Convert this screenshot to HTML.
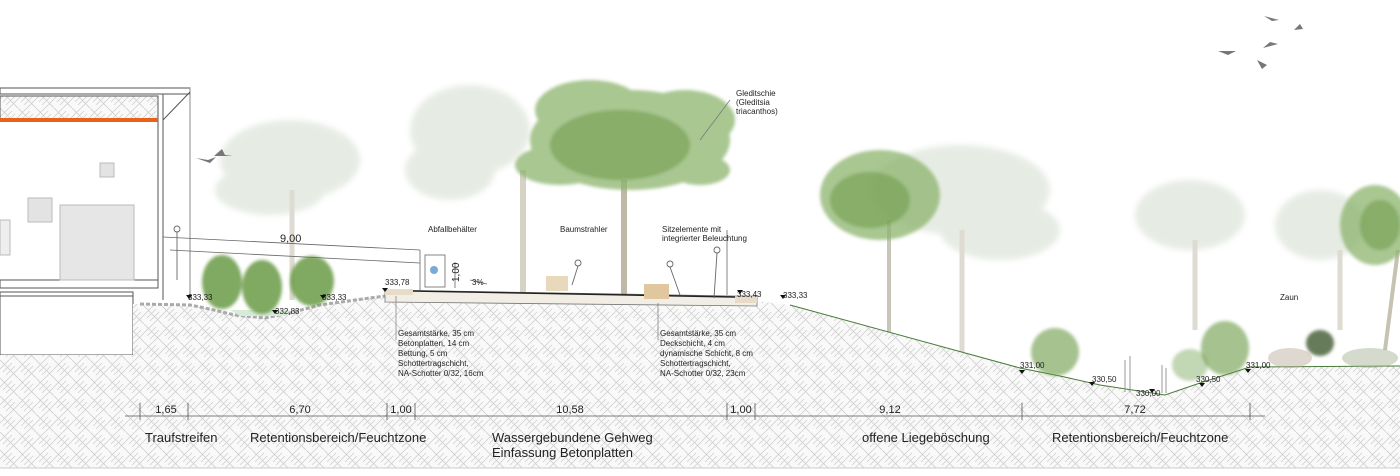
<!DOCTYPE html>
<html><head><meta charset="utf-8"><style>
html,body{margin:0;padding:0;background:#fff;}
svg{display:block;font-family:"Liberation Sans",sans-serif;}
</style></head><body>
<svg width="1400" height="476" viewBox="0 0 1400 476" xmlns="http://www.w3.org/2000/svg">
<defs>
<pattern id="hb" width="18" height="18" patternUnits="userSpaceOnUse">
<rect width="18" height="18" fill="#f9f9f9"/>
<path d="M0 9 L9 0 M9 18 L18 9 M0 0 L9 9 M9 9 L18 18 M3 12 L12 3 M6 15 L15 6" stroke="#cfcfcf" stroke-width="0.8" fill="none"/>
</pattern>
<filter id="bl"><feGaussianBlur stdDeviation="3"/></filter>
<filter id="bl2"><feGaussianBlur stdDeviation="1.5"/></filter>
</defs>

<!-- background trees (faded) -->
<g opacity="0.28" filter="url(#bl)" fill="#a9bca0">
<ellipse cx="290" cy="160" rx="70" ry="40"/><ellipse cx="270" cy="190" rx="55" ry="25"/>
<ellipse cx="470" cy="130" rx="60" ry="45"/><ellipse cx="450" cy="170" rx="45" ry="30"/>
<ellipse cx="960" cy="190" rx="90" ry="45"/><ellipse cx="1000" cy="230" rx="60" ry="30"/>
<ellipse cx="1190" cy="215" rx="55" ry="35"/>
<ellipse cx="1320" cy="225" rx="45" ry="35"/>
</g>
<g stroke="#dedbd2" stroke-width="5">
<line x1="292" y1="190" x2="292" y2="300"/>
<line x1="962" y1="230" x2="962" y2="355"/>
<line x1="1195" y1="240" x2="1195" y2="330"/>
<line x1="1340" y1="250" x2="1340" y2="330"/>
</g>
<line x1="523" y1="170" x2="523" y2="295" stroke="#d6d2c4" stroke-width="6"/>
<line x1="889" y1="220" x2="889" y2="335" stroke="#c9c6b8" stroke-width="4"/>
<line x1="624" y1="180" x2="624" y2="298" stroke="#bdb9a6" stroke-width="6"/>
<line x1="1398" y1="250" x2="1385" y2="350" stroke="#c7c3b2" stroke-width="4"/>

<!-- main trees -->
<g filter="url(#bl2)">
<g fill="#8db56c" opacity="0.75">
<ellipse cx="630" cy="140" rx="100" ry="50"/>
<ellipse cx="590" cy="110" rx="55" ry="30"/>
<ellipse cx="685" cy="120" rx="50" ry="30"/>
<ellipse cx="560" cy="165" rx="45" ry="20"/>
<ellipse cx="700" cy="170" rx="30" ry="15"/>
<ellipse cx="880" cy="195" rx="60" ry="45"/>
<ellipse cx="1375" cy="225" rx="35" ry="40"/>
</g>
<g fill="#6d9a4b" opacity="0.55">
<ellipse cx="620" cy="145" rx="70" ry="35"/>
<ellipse cx="870" cy="200" rx="40" ry="28"/>
<ellipse cx="1380" cy="225" rx="20" ry="25"/>
</g>
</g>

<!-- building -->
<g stroke="#555" stroke-width="1" fill="none">
<rect x="0" y="88" width="190" height="6" fill="#fff"/>
<rect x="0" y="96" width="158" height="24" fill="url(#hb)"/>
<line x1="163" y1="94" x2="163" y2="300"/>
<line x1="158" y1="120" x2="158" y2="285"/>
<line x1="190" y1="88" x2="190" y2="300" stroke="#888"/>
<line x1="163" y1="120" x2="190" y2="92"/>
<rect x="0" y="280" width="158" height="8" fill="#fff"/>
<rect x="0" y="292" width="133" height="63" fill="#fff"/>
<line x1="0" y1="296" x2="133" y2="296"/>
</g>
<rect x="0" y="118" width="158" height="4" fill="#e8621c"/>
<rect x="100" y="163" width="14" height="14" fill="#e3e3e3" stroke="#bbb"/>
<rect x="28" y="198" width="24" height="24" fill="#e3e3e3" stroke="#bbb"/>
<rect x="60" y="205" width="74" height="75" fill="#e6e6e6" stroke="#bbb"/>
<rect x="0" y="220" width="10" height="35" fill="#eee" stroke="#bbb"/>
<!-- birds -->
<g fill="#777">
<path d="M196 158 l12 2 l8 -3 l-6 6 z"/><path d="M214 156 l8 -7 l3 6 l8 1 z"/>
<path d="M1264 16 l8 5 l7 -1 z"/><path d="M1294 30 l6 -6 l3 5 z"/><path d="M1263 48 l7 -6 l8 2 z"/><path d="M1218 51 l10 4 l8 -4 z"/><path d="M1257 60 l5 9 l5 -4 z"/>
</g>

<!-- ground -->
<path d="M0 355 L133 355 L133 304 L190 305 L205 308 L235 315 L265 318 L290 313 L320 305 L355 300 L385 296 L410 297 L735 301 L757 301 L790 305 L1020 368 L1060 376 L1100 385 L1165 395 L1200 383 L1250 367 L1400 366 L1400 468 L0 468 Z" fill="url(#hb)"/>
<path d="M140 304 L190 305 L205 308 L235 315 L265 318 L290 313 L320 305 L355 300 L385 296" stroke="#aaa" stroke-width="3" fill="none" stroke-dasharray="4 2"/>
<path d="M230 310 L290 310 L285 316 L240 316Z" fill="#d6ecd8"/>
<path d="M790 305 L1020 368 L1060 376 L1100 385 L1165 395 L1200 383 L1250 367 L1400 366" stroke="#4a7a3a" stroke-width="1" fill="none"/>
<line x1="0" y1="468" x2="1400" y2="468" stroke="#ccc"/>
<path d="M385 290 L735 296 L757 296 L757 306 L385 302 Z" fill="#f2eee6" stroke="#777" stroke-width="0.8"/>
<line x1="413" y1="291" x2="735" y2="297" stroke="#222" stroke-width="1.5"/>
<rect x="385" y="289" width="28" height="6" fill="#e8dcc8"/>
<rect x="735" y="297" width="22" height="6" fill="#e8dcc8"/>

<!-- shrubs -->
<g fill="#6a9a45" filter="url(#bl2)">
<ellipse cx="222" cy="282" rx="20" ry="27" opacity="0.85"/><ellipse cx="262" cy="287" rx="20" ry="27" opacity="0.85"/><ellipse cx="312" cy="281" rx="22" ry="25" opacity="0.85"/>
<ellipse cx="1055" cy="352" rx="24" ry="24" opacity="0.6"/><ellipse cx="1225" cy="348" rx="24" ry="27" opacity="0.6"/><ellipse cx="1190" cy="365" rx="18" ry="16" opacity="0.4"/>
<ellipse cx="1320" cy="343" rx="14" ry="13" fill="#3f5a30" opacity="0.8"/>
</g>
<g fill="#b9a998" opacity="0.45"><ellipse cx="1290" cy="358" rx="22" ry="10"/><ellipse cx="1370" cy="358" rx="28" ry="10" fill="#9fb08f"/></g>
<g stroke="#999" stroke-width="1"><line x1="1125" y1="360" x2="1125" y2="392"/><line x1="1130" y1="356" x2="1130" y2="392"/><line x1="1162" y1="365" x2="1162" y2="393"/><line x1="1166" y1="368" x2="1166" y2="393"/></g>

<!-- railing / dims -->
<g stroke="#666" stroke-width="0.8" fill="none">
<line x1="163" y1="237" x2="420" y2="250"/>
<line x1="170" y1="250" x2="420" y2="263"/>
<line x1="420" y1="250" x2="420" y2="290"/>
<rect x="425" y="255" width="20" height="32" fill="#fff"/>
<line x1="455" y1="262" x2="455" y2="288"/>
<line x1="470" y1="280" x2="487" y2="284"/>
<line x1="727" y1="295" x2="727" y2="230"/>
</g>
<circle cx="434" cy="270" r="4" fill="#7aaad6"/>
<rect x="546" y="276" width="22" height="15" fill="#e8d8bc"/>
<rect x="644" y="284" width="25" height="15" fill="#e1c79e"/>
<g stroke="#666" fill="none" stroke-width="0.9">
<circle cx="177" cy="229" r="3"/><line x1="177" y1="232" x2="177" y2="280"/>
<circle cx="578" cy="263" r="3"/><line x1="578" y1="266" x2="572" y2="285"/>
<circle cx="670" cy="264" r="3"/><line x1="670" y1="267" x2="680" y2="295"/>
<circle cx="717" cy="250" r="3"/><line x1="717" y1="253" x2="714" y2="298"/>
</g>

<!-- text labels -->
<g font-size="8" fill="#222">
<text x="280" y="242" font-size="11">9,00</text>
<text x="428" y="232">Abfallbehälter</text>
<text x="560" y="232">Baumstrahler</text>
<text x="662" y="232">Sitzelemente mit</text>
<text x="662" y="241">integrierter Beleuchtung</text>
<text x="736" y="96">Gleditschie</text>
<text x="736" y="105">(Gleditsia</text>
<text x="736" y="114">triacanthos)</text>
<text x="472" y="285">3%</text>
<text x="459" y="282" transform="rotate(-90 459 282)" font-size="10">1,00</text>
<text x="1280" y="300">Zaun</text>
<text x="188" y="300">333,33</text>
<text x="322" y="300">333,33</text>
<text x="385" y="285">333,78</text>
<text x="275" y="314">332,83</text>
<text x="737" y="297">333,43</text>
<text x="783" y="298">333,33</text>
<text x="1020" y="368">331,00</text>
<text x="1092" y="382">330,50</text>
<text x="1136" y="396">330,00</text>
<text x="1196" y="382">330,50</text>
<text x="1246" y="368">331,00</text>
<text x="398" y="336">Gesamtstärke, 35 cm</text>
<text x="398" y="346">Betonplatten, 14 cm</text>
<text x="398" y="356">Bettung, 5 cm</text>
<text x="398" y="366">Schottertragschicht,</text>
<text x="398" y="376">NA-Schotter 0/32, 16cm</text>
<text x="660" y="336">Gesamtstärke, 35 cm</text>
<text x="660" y="346">Deckschicht, 4 cm</text>
<text x="660" y="356">dynamische Schicht, 8 cm</text>
<text x="660" y="366">Schottertragschicht,</text>
<text x="660" y="376">NA-Schotter 0/32, 23cm</text>
</g>
<g stroke="#777" stroke-width="0.7"><line x1="396" y1="296" x2="396" y2="340"/><line x1="658" y1="303" x2="658" y2="340"/><line x1="730" y1="100" x2="700" y2="140"/></g>
<g fill="#111">
<path d="M186 295 l6 0 l-3 4z"/><path d="M320 295 l6 0 l-3 4z"/><path d="M382 288 l6 0 l-3 4z"/><path d="M272 310 l6 0 l-3 4z"/><path d="M737 290 l6 0 l-3 4z"/><path d="M780 295 l6 0 l-3 4z"/><path d="M1019 370 l6 0 l-3 4z"/><path d="M1089 382 l6 0 l-3 4z"/><path d="M1149 389 l6 0 l-3 4z"/><path d="M1199 383 l6 0 l-3 4z"/><path d="M1245 369 l6 0 l-3 4z"/>
</g>

<!-- dimension line -->
<g stroke="#555" stroke-width="0.8">
<line x1="125" y1="416" x2="1265" y2="416"/>
<line x1="140" y1="403" x2="140" y2="420"/><line x1="188" y1="403" x2="188" y2="420"/><line x1="387" y1="403" x2="387" y2="420"/><line x1="415" y1="403" x2="415" y2="420"/><line x1="727" y1="403" x2="727" y2="420"/><line x1="755" y1="403" x2="755" y2="420"/><line x1="1022" y1="403" x2="1022" y2="420"/><line x1="1250" y1="403" x2="1250" y2="420"/>
</g>
<g font-size="11" fill="#222" text-anchor="middle">
<text x="166" y="413">1,65</text><text x="300" y="413">6,70</text><text x="401" y="413">1,00</text><text x="570" y="413">10,58</text><text x="741" y="413">1,00</text><text x="890" y="413">9,12</text><text x="1135" y="413">7,72</text>
</g>
<g font-size="13" fill="#222">
<text x="145" y="442">Traufstreifen</text>
<text x="250" y="442">Retentionsbereich/Feuchtzone</text>
<text x="492" y="442">Wassergebundene Gehweg</text>
<text x="492" y="457">Einfassung Betonplatten</text>
<text x="862" y="442">offene Liegeböschung</text>
<text x="1052" y="442">Retentionsbereich/Feuchtzone</text>
</g>
</svg>
</body></html>
